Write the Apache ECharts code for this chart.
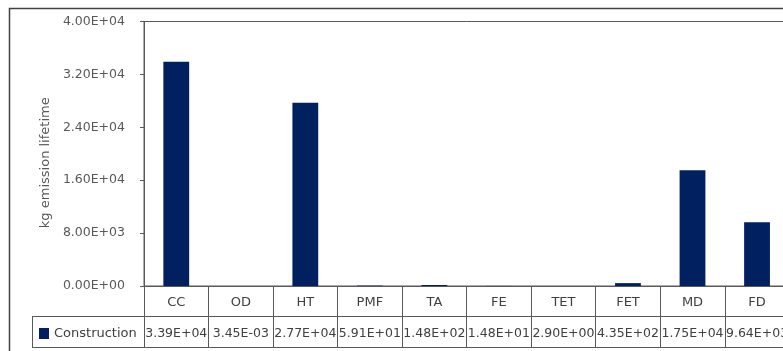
<!DOCTYPE html>
<html>
<head>
<meta charset="utf-8">
<script src="https://cdn.jsdelivr.net/npm/echarts@6/dist/echarts.min.js"></script>
<style>
html,body{margin:0;padding:0;background:#fff;overflow:hidden;}
#chart{width:791px;height:351px;}
</style>
</head>
<body>
<div id="chart"></div>
<script>
var categories = ["CC","OD","HT","PMF","TA","FE","TET","FET","MD","FD"];
var seriesName = "Construction";
var values = [33900, 0.00345, 27700, 59.1, 148, 14.8, 2.90, 435, 17500, 9640];
var yMin = 0, yMax = 40000, yInterval = 8000;

function sci(v){
  var p = Number(v).toExponential(2).split('e');
  var e = p[1];
  var sign = e[0];
  var d = e.slice(1);
  if (d.length < 2) d = '0' + d;
  return p[0] + 'E' + sign + d;
}
var valueLabels = values.map(sci);

var font = "DejaVu Sans";
var chart = echarts.init(document.getElementById('chart'));
chart.setOption({
  animation: false,
  backgroundColor: '#ffffff',
  textStyle: {fontFamily: font},
  grid: {
    left: 144, top: 21.5, right: 0, bottom: 65,
    show: true, borderColor: '#595959', borderWidth: 1, backgroundColor: 'transparent'
  },
  legend: {
    data: [seriesName],
    left: 39, top: 327,
    icon: 'rect', itemWidth: 10, itemHeight: 11, itemGap: 6,
    padding: 0,
    textStyle: {fontFamily: font, fontSize: 13, color: '#404040', padding: [0,0,0,0]}
  },
  xAxis: [
    {
      type: 'category', data: categories, position: 'bottom',
      axisLine: {show: true, lineStyle: {color: '#595959', width: 1}},
      axisTick: {show: true, alignWithLabel: false, inside: false, length: 61, lineStyle: {color: '#595959'}},
      axisLabel: {fontFamily: font, fontSize: 13, color: '#404040', margin: 10, interval: 0},
      splitLine: {show: false}
    },
    {
      type: 'category', data: valueLabels, position: 'bottom', offset: 30,
      axisLine: {show: true, lineStyle: {color: '#595959', width: 1}},
      axisTick: {show: false},
      axisLabel: {fontFamily: font, fontSize: 12.5, color: '#404040', margin: 11, interval: 0},
      splitLine: {show: false}
    }
  ],
  yAxis: {
    type: 'value', min: yMin, max: yMax, interval: yInterval,
    name: 'kg emission lifetime', nameLocation: 'middle', nameGap: 92,
    nameTextStyle: {fontFamily: font, fontSize: 13, color: '#595959', padding: [0, 18, 0, 0]},
    axisLine: {show: true, lineStyle: {color: '#595959', width: 1}},
    axisTick: {show: true, inside: false, length: 4, lineStyle: {color: '#595959'}},
    axisLabel: {fontFamily: font, fontSize: 12.5, color: '#595959', margin: 19, padding: [8,0,0,0], formatter: sci},
    splitLine: {show: false}
  },
  series: [{
    name: seriesName, type: 'bar', data: values, xAxisIndex: 0,
    barWidth: '40%', itemStyle: {color: '#002060'}
  }],
  graphic: [
    {type: 'rect', shape: {x: 9.5, y: 8.5, width: 900, height: 500}, style: {fill: 'none', stroke: '#404040', lineWidth: 1.5}, silent: true},
    {type: 'line', shape: {x1: 32, y1: 316.5, x2: 144, y2: 316.5}, style: {stroke: '#595959', lineWidth: 1}, silent: true},
    {type: 'line', shape: {x1: 32, y1: 347.5, x2: 800, y2: 347.5}, style: {stroke: '#595959', lineWidth: 1}, silent: true},
    {type: 'line', shape: {x1: 32.5, y1: 316, x2: 32.5, y2: 348}, style: {stroke: '#595959', lineWidth: 1}, silent: true}
  ]
});
</script>
</body>
</html>
